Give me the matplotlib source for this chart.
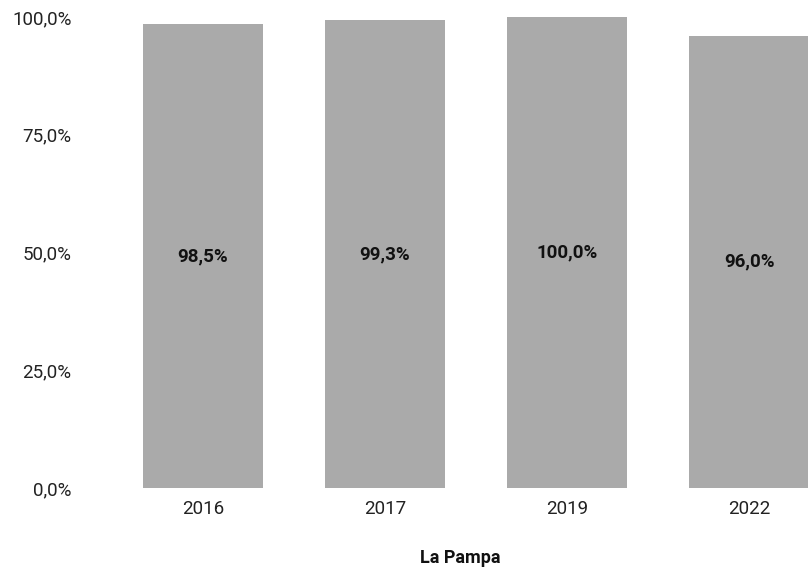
import matplotlib
matplotlib.use('Agg')
import matplotlib.pyplot as plt
import numpy as np

plt.rcParams['font.family'] = ['Roboto', 'DejaVu Sans']

years = ['2016', '2017', '2019', '2022']
values = [98.5, 99.3, 100.0, 96.0]
yticks = [0, 25, 50, 75, 100]

def fmt(v):
	return ('%.1f' % v).replace('.', ',') + '%'

fig = plt.figure(figsize=(8.08, 5.73), dpi=100)
ax = fig.add_axes([112/808, 85/573, 1 - 112/808, (488-17)/573])

x = np.arange(len(years))
ax.bar(x, values, width=0.655, color='#aaaaaa')

# labels sit in the middle of each bar
for xi, v in zip(x, values):
	ax.text(xi, v/2, fmt(v), ha='center', va='center', fontsize=13.5, fontweight='bold', color='#111111')

ax.set_xlim(-0.5, 3.324)
ax.set_ylim(0, 100)
ax.set_xticks(x)
ax.set_xticklabels(years)
ax.set_yticks(yticks)
ax.set_yticklabels([fmt(t) for t in yticks])
ax.tick_params(length=0, labelsize=13.5, colors='#222222')
ax.tick_params(axis='y', pad=29)
ax.tick_params(axis='x', pad=9)
ax.set_xlabel('La Pampa', fontsize=13, fontweight='bold', color='#111111', labelpad=22)
for s in ax.spines.values():
	s.set_visible(False)

fig.savefig('out.png', dpi=100)
